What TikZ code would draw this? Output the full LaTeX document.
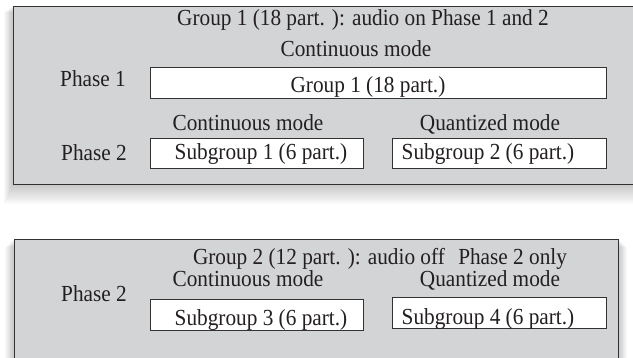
\documentclass[tikz,border=0pt]{standalone}
\usepackage{fontspec}
\setmainfont[FakeStretch=0.925]{Liberation Serif}
\definecolor{panelgray}{RGB}{211,212,214}
\definecolor{edge}{RGB}{50,50,50}
\definecolor{ink}{RGB}{35,31,32}
\begin{document}
\begin{tikzpicture}[x=1pt,y=-1pt,
  panel/.style={draw=edge, line width=1.1pt, fill=panelgray, inner sep=0pt, anchor=north west},
  wbox/.style={draw=edge, line width=1.1pt, fill=white, inner sep=0pt, anchor=north west},
  lbl/.style={font=\fontsize{23}{26}\selectfont, text=ink, inner sep=0pt, anchor=base},
]
\useasboundingbox (0,0) rectangle (633,358);
% soft shadows
\foreach \i in {1,...,10}{
  \fill[black, opacity=0.022] (13-0.9*\i, 6+0.6*\i) rectangle (660, 184+2*\i);
  \fill[black, opacity=0.022] (14-0.9*\i, 239+0.8*\i) rectangle (618+0.9*\i, 380);
}
% panel 1
\node[panel, minimum width=650pt, minimum height=178pt] (p1) at (13,6) {};
\node[lbl] (t1) at (363,26) {Group 1 (18 part. ): audio on Phase 1 and 2};
\node[lbl] (c1) at (356,57) {Continuous mode};
\node[lbl] (ph1) at (93,87) {Phase 1};
\node[wbox, minimum width=456pt, minimum height=31pt] (g1) at (150,67) {};
\node[lbl] (g1t) at (368,93) {Group 1 (18 part.)};
\node[lbl] (c2) at (248,131) {Continuous mode};
\node[lbl] (q2) at (490,131) {Quantized mode};
\node[lbl] (ph2) at (94,161) {Phase 2};
\node[wbox, minimum width=213pt, minimum height=30pt] (s1) at (150,138) {};
\node[wbox, minimum width=214pt, minimum height=30pt] (s2) at (392,138) {};
\node[lbl] (s1t) at (261,160) {Subgroup 1 (6 part.)};
\node[lbl] (s2t) at (488,160) {Subgroup 2 (6 part.)};
% panel 2
\node[panel, minimum width=604pt, minimum height=140pt] (p2) at (14,239) {};
\node[lbl] (t2) at (380,265) {Group 2 (12 part. ): audio off\hspace{0.35em} Phase 2 only};
\node[lbl] (c3) at (248,287) {Continuous mode};
\node[lbl] (q3) at (490,287) {Quantized mode};
\node[lbl] (ph3) at (94,302) {Phase 2};
\node[wbox, minimum width=213pt, minimum height=31pt] (s3) at (150,299) {};
\node[wbox, minimum width=214pt, minimum height=31pt] (s4) at (392,297) {};
\node[lbl] (s3t) at (261,326) {Subgroup 3 (6 part.)};
\node[lbl] (s4t) at (488,325) {Subgroup 4 (6 part.)};
\end{tikzpicture}
\end{document}
